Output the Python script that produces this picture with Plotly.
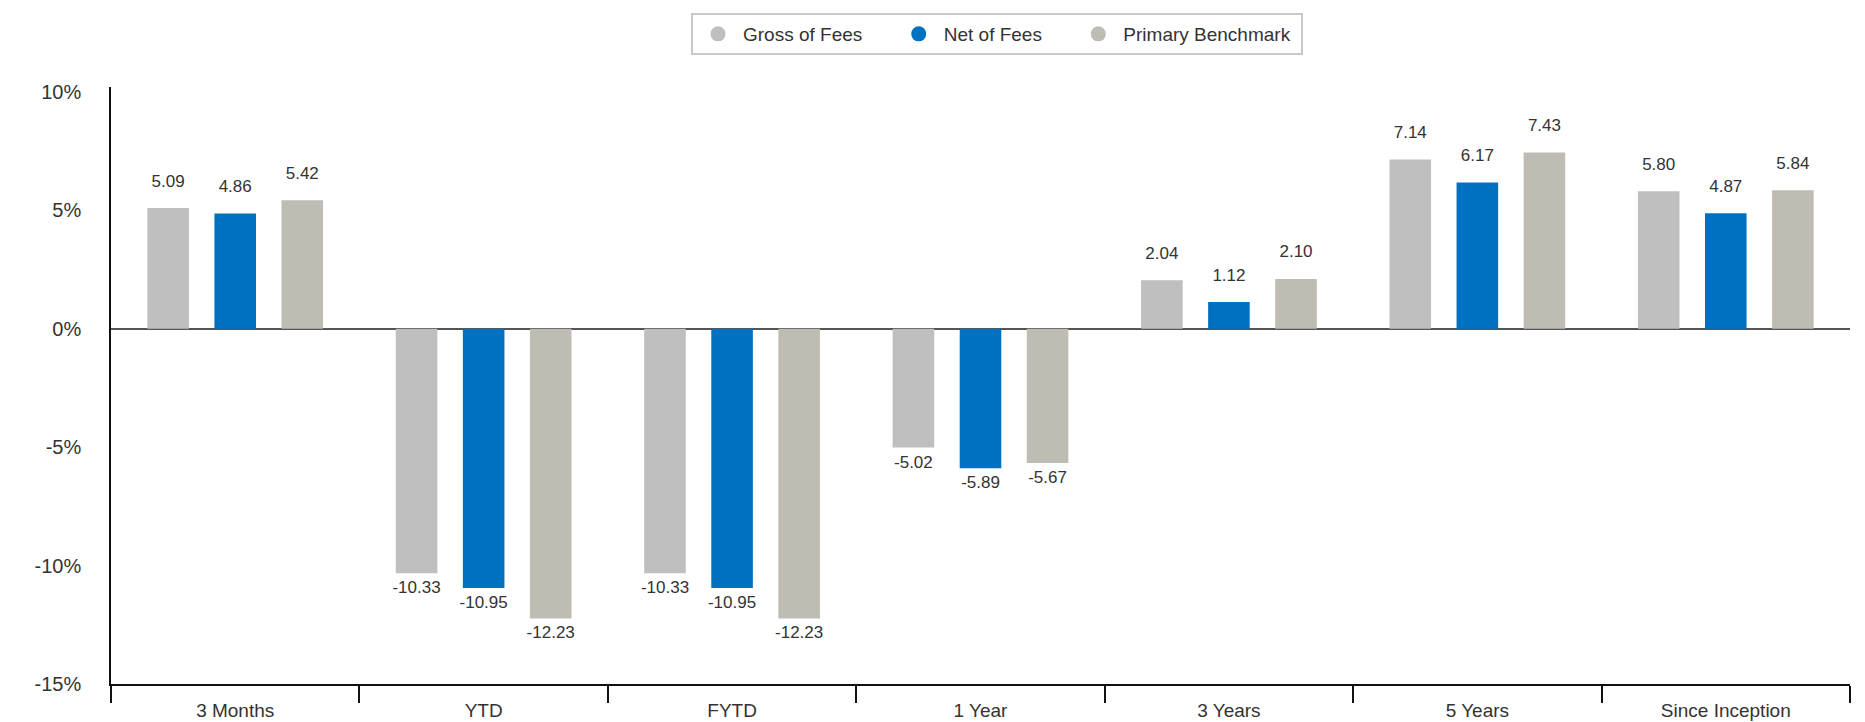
import plotly.graph_objects as go

# Performance periods and returns (%)
periods = ["3 Months", "YTD", "FYTD", "1 Year", "3 Years", "5 Years", "Since Inception"]
gross_of_fees = [5.09, -10.33, -10.33, -5.02, 2.04, 7.14, 5.80]
net_of_fees = [4.86, -10.95, -10.95, -5.89, 1.12, 6.17, 4.87]
primary_benchmark = [5.42, -12.23, -12.23, -5.67, 2.10, 7.43, 5.84]

# y-axis ticks
y_tick_values = [10, 5, 0, -5, -10, -15]
y_tick_labels = ["10%", "5%", "0%", "-5%", "-10%", "-15%"]

NBSP = "\u00a0"
series = [
    ("Gross of Fees", gross_of_fees, "#BFBFBF", "g", 5),
    ("Net of Fees", net_of_fees, "#0070C0", "n", 5),
    ("Primary Benchmark", primary_benchmark, "#BFBCB4", "b", 1),
]

FONT = "Arial, 'Liberation Sans', sans-serif"
TEXT_COLOR = "#333333"

fig = go.Figure()

for name, values, color, grp, _ in series:
    # bars
    fig.add_trace(go.Bar(
        x=periods, y=values, name=name, marker_color=color,
        marker_line_width=0, offsetgroup=grp, showlegend=False,
        hovertemplate="%{x}: %{y:.2f}<extra>" + name + "</extra>",
    ))
    # value labels, pushed away from the bar ends by an invisible marker
    fig.add_trace(go.Scatter(
        x=periods, y=values, mode="markers+text", offsetgroup=grp,
        text=[f"{v:.2f}" for v in values],
        textposition=["top center" if v >= 0 else "bottom center" for v in values],
        textfont=dict(family=FONT, size=17, color=TEXT_COLOR),
        marker=dict(size=[26 if v >= 0 else 10 for v in values], opacity=0),
        showlegend=False, hoverinfo="skip",
    ))

# legend entries drawn as circles (trailing spaces widen the entry spacing)
for name, values, color, grp, pad in series:
    fig.add_trace(go.Scatter(
        x=[None], y=[None], mode="markers", name=name + NBSP * pad,
        marker=dict(symbol="circle", size=15, color=color),
    ))

fig.update_layout(
    width=1865, height=722,
    margin=dict(l=111, r=15, t=87, b=38),
    paper_bgcolor="white", plot_bgcolor="white",
    barmode="group", bargap=0.19, bargroupgap=0.38,
    scattermode="group", scattergap=0.19,
    font=dict(family=FONT, size=19, color=TEXT_COLOR),
    legend=dict(
        orientation="h", xref="container", yref="container",
        x=691 / 1865, xanchor="left", y=1 - 13 / 722, yanchor="top",
        bordercolor="#C8C8C8", borderwidth=2, bgcolor="white",
        font=dict(family=FONT, size=19, color=TEXT_COLOR),
        itemwidth=40, itemclick=False,
    ),
    showlegend=True,
)

fig.update_xaxes(
    type="category", showgrid=False, showline=True, linecolor="#111111", linewidth=1.5,
    ticks="outside", tickson="boundaries", ticklen=17, tickcolor="#111111", tickwidth=1.5,
    tickfont=dict(family=FONT, size=19, color=TEXT_COLOR),
    ticklabelstandoff=8, automargin=False,
)

fig.update_yaxes(
    range=[-15, 10.2], tickvals=y_tick_values, ticktext=y_tick_labels,
    showgrid=False, showline=True, linecolor="#111111", linewidth=1.5,
    zeroline=True, zerolinecolor="#555555", zerolinewidth=2,
    ticks="", tickfont=dict(family=FONT, size=20, color=TEXT_COLOR),
    ticklabelstandoff=24, automargin=False,
)

fig.write_html("out.html")
